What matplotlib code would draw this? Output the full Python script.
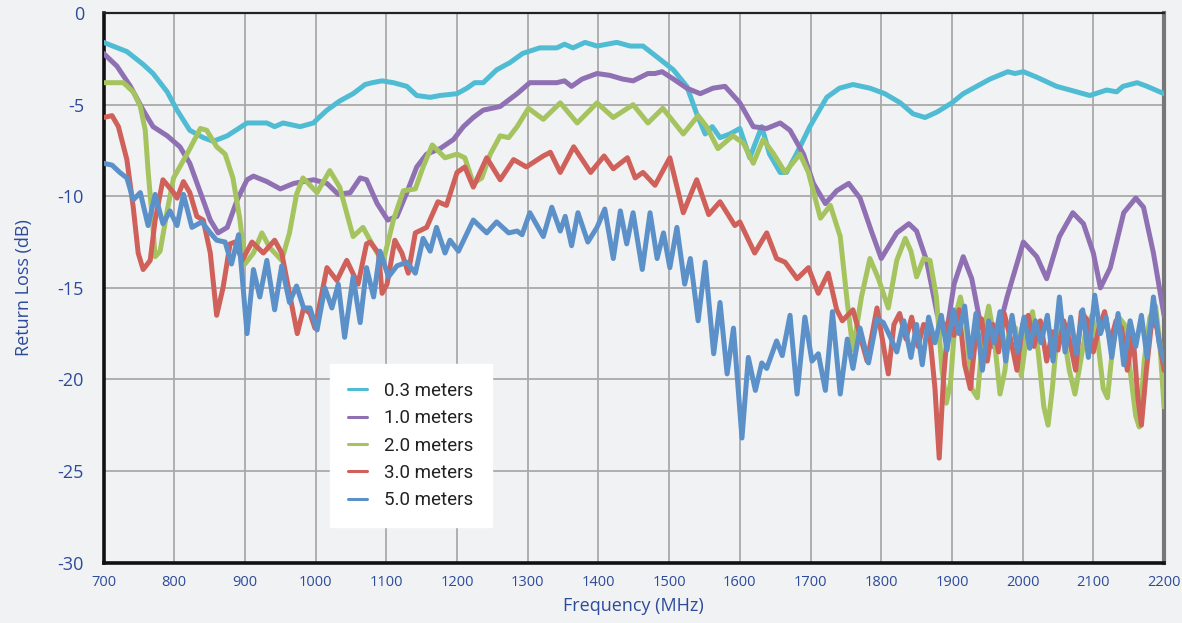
import matplotlib

matplotlib.use("Agg")
import matplotlib.pyplot as plt

BG = "#f1f2f4"
NAVY = "#2d4b9b"

# 0.3 meters
f_03 = [700, 733, 756, 770, 790, 804, 822, 841, 855, 875, 883, 903, 921, 931, 942, 954, 978, 997,
        1002, 1016, 1034, 1053, 1070, 1080, 1094, 1110, 1129, 1143, 1162, 1176, 1200, 1214, 1225,
        1237, 1256, 1275, 1293, 1317, 1341, 1352, 1364, 1381, 1398, 1426, 1445, 1463, 1483, 1506,
        1525, 1539, 1551, 1561, 1572, 1586, 1600, 1614, 1631, 1642, 1657, 1666, 1680, 1699, 1723,
        1741, 1760, 1784, 1805, 1827, 1845, 1862, 1879, 1900, 1916, 1935, 1954, 1979, 1989, 2001,
        2020, 2048, 2067, 2095, 2119, 2133, 2142, 2162, 2176, 2200]
rl_03 = [-1.6, -2.1, -2.8, -3.3, -4.3, -5.3, -6.4, -6.8, -7.0, -6.7, -6.5, -6.0, -6.0, -6.0, -6.2,
         -6.0, -6.2, -6.0, -5.8, -5.3, -4.8, -4.4, -3.9, -3.8, -3.7, -3.8, -4.0, -4.5, -4.6, -4.5,
         -4.4, -4.1, -3.8, -3.8, -3.1, -2.7, -2.2, -1.9, -1.9, -1.7, -1.9, -1.6, -1.8, -1.6, -1.8,
         -1.8, -2.4, -3.1, -4.0, -5.5, -6.6, -6.2, -6.8, -6.6, -6.3, -7.9, -6.2, -7.7, -8.7, -8.7,
         -7.7, -6.2, -4.6, -4.1, -3.9, -4.1, -4.4, -4.9, -5.5, -5.7, -5.4, -4.9, -4.4, -4.0, -3.6,
         -3.2, -3.3, -3.2, -3.5, -4.0, -4.2, -4.5, -4.2, -4.3, -4.0, -3.8, -4.0, -4.4]

# 1.0 meters
f_10 = [700, 719, 738, 756, 770, 790, 808, 822, 837, 851, 862, 875, 889, 903, 912, 931, 950, 969,
        997, 1016, 1032, 1049, 1063, 1072, 1087, 1102, 1115, 1129, 1143, 1157, 1176, 1195, 1209,
        1223, 1237, 1261, 1285, 1303, 1327, 1341, 1352, 1362, 1377, 1398, 1416, 1434, 1449, 1470,
        1480, 1490, 1506, 1525, 1544, 1562, 1579, 1600, 1619, 1638, 1657, 1671, 1690, 1704, 1721,
        1737, 1754, 1770, 1786, 1800, 1822, 1839, 1850, 1864, 1879, 1888, 1895, 1903, 1916, 1928,
        1938, 1948, 1958, 1968, 1978, 2001, 2020, 2034, 2052, 2071, 2086, 2100, 2110, 2124, 2143,
        2160, 2171, 2185, 2200]
rl_10 = [-2.2, -2.9, -4.0, -5.3, -6.2, -6.7, -7.3, -8.2, -9.8, -11.3, -12.0, -11.7, -10.2, -9.1,
         -8.9, -9.2, -9.6, -9.3, -9.1, -9.3, -9.9, -9.8, -9.0, -9.1, -10.4, -11.3, -11.1, -9.8,
         -8.4, -7.7, -7.4, -6.9, -6.2, -5.7, -5.3, -5.1, -4.4, -3.8, -3.8, -3.8, -3.7, -4.0, -3.6,
         -3.3, -3.4, -3.6, -3.7, -3.3, -3.3, -3.2, -3.6, -4.1, -4.4, -4.1, -4.0, -4.9, -6.2, -6.3,
         -6.0, -6.4, -7.7, -9.3, -10.4, -9.7, -9.3, -10.1, -11.9, -13.4, -12.0, -11.5, -11.9,
         -13.5, -16.4, -17.5, -16.8, -14.8, -13.3, -14.5, -16.5, -17.8, -18.2, -17.0, -15.5,
         -12.5, -13.3, -14.5, -12.2, -10.9, -11.5, -13.1, -15.0, -13.9, -10.9, -10.1, -10.6,
         -13.1, -16.5]

# 2.0 meters
f_20 = [700, 728, 742, 752, 759, 763, 769, 773, 780, 790, 799, 818, 837, 846, 860, 872, 883, 893,
        900, 912, 924, 935, 952, 963, 973, 982, 1002, 1020, 1034, 1053, 1067, 1087, 1096, 1110,
        1124, 1141, 1152, 1165, 1183, 1200, 1211, 1223, 1235, 1247, 1261, 1273, 1285, 1301, 1322,
        1346, 1370, 1398, 1421, 1449, 1470, 1491, 1520, 1541, 1553, 1569, 1590, 1605, 1619, 1633,
        1648, 1664, 1685, 1697, 1714, 1728, 1742, 1752, 1760, 1772, 1784, 1796, 1810, 1822, 1834,
        1842, 1850, 1860, 1869, 1878, 1886, 1892, 1898, 1905, 1912, 1920, 1928, 1936, 1944, 1952,
        1960, 1968, 1975, 1982, 1990, 1998, 2006, 2014, 2022, 2030, 2036, 2042, 2050, 2058, 2066,
        2074, 2082, 2090, 2098, 2106, 2114, 2120, 2128, 2136, 2144, 2152, 2160, 2165, 2172, 2180,
        2188, 2194, 2200]
rl_20 = [-3.8, -3.8, -4.3, -5.1, -6.4, -8.6, -11.3, -13.3, -13.0, -10.8, -9.0, -7.7, -6.3, -6.4,
         -7.3, -7.7, -9.0, -11.3, -13.7, -13.1, -12.0, -12.8, -13.5, -12.0, -9.9, -9.0, -9.8,
         -8.6, -9.5, -12.2, -11.7, -13.1, -13.5, -11.3, -9.7, -9.6, -8.4, -7.2, -7.9, -7.7, -7.9,
         -9.3, -9.0, -7.7, -6.7, -6.8, -6.2, -5.2, -5.8, -4.9, -6.0, -4.9, -5.7, -5.0, -6.0, -5.2,
         -6.6, -5.6, -6.2, -7.4, -6.7, -7.1, -8.2, -6.9, -7.7, -8.7, -7.7, -8.7, -11.2, -10.5,
         -12.2, -15.8, -18.4, -15.5, -13.4, -14.5, -16.1, -13.5, -12.3, -13.0, -14.4, -13.4,
         -13.5, -15.5, -19.5, -21.3, -20.2, -16.5, -15.5, -17.0, -20.5, -21.0, -17.5, -16.0,
         -17.8, -20.8, -19.5, -17.0, -17.2, -19.8, -17.5, -16.3, -18.5, -21.5, -22.5, -20.5,
         -17.0, -17.5, -19.5, -20.8, -19.0, -17.2, -16.5, -17.8, -20.5, -21.0, -18.0, -16.6,
         -17.0, -19.5, -22.0, -22.6, -19.0, -16.6, -16.0, -18.0, -21.5]

# 3.0 meters
f_30 = [700, 712, 721, 733, 742, 749, 756, 766, 773, 784, 799, 804, 813, 822, 832, 841, 851, 860,
        869, 879, 886, 896, 910, 926, 942, 952, 963, 974, 983, 992, 999, 1016, 1030, 1044, 1060,
        1072, 1077, 1089, 1094, 1101, 1112, 1122, 1131, 1141, 1157, 1173, 1185, 1200, 1211, 1223,
        1242, 1261, 1280, 1298, 1322, 1332, 1346, 1365, 1389, 1408, 1421, 1441, 1452, 1463, 1480,
        1501, 1520, 1539, 1556, 1572, 1593, 1600, 1621, 1638, 1652, 1664, 1681, 1697, 1711, 1725,
        1737, 1745, 1760, 1780, 1794, 1810, 1818, 1826, 1835, 1843, 1852, 1860, 1868, 1876, 1882,
        1888, 1895, 1903, 1910, 1918, 1926, 1934, 1942, 1950, 1958, 1966, 1974, 1983, 1992, 2000,
        2008, 2016, 2025, 2034, 2042, 2050, 2058, 2066, 2075, 2083, 2092, 2100, 2108, 2116, 2124,
        2132, 2140, 2148, 2156, 2163, 2168, 2175, 2183, 2190, 2200]
rl_30 = [-5.7, -5.6, -6.2, -8.0, -10.6, -13.1, -14.0, -13.5, -11.3, -9.1, -9.8, -10.1, -9.2, -9.8,
         -11.1, -11.3, -13.1, -16.5, -15.0, -12.6, -12.5, -13.5, -12.5, -13.1, -12.4, -13.1,
         -15.3, -17.5, -16.1, -16.4, -17.2, -13.9, -14.6, -13.5, -14.8, -12.6, -12.5, -13.1,
         -15.3, -14.8, -12.4, -13.1, -14.2, -12.0, -11.7, -10.3, -10.5, -8.7, -8.4, -9.5, -7.9,
         -9.1, -8.0, -8.4, -7.8, -7.6, -8.7, -7.3, -8.7, -7.8, -8.5, -7.9, -9.0, -8.7, -9.4, -7.9,
         -10.9, -9.1, -11.0, -10.3, -11.6, -11.4, -13.1, -12.0, -13.4, -13.6, -14.5, -13.9,
         -15.3, -14.2, -16.2, -16.8, -16.2, -19.0, -16.1, -19.7, -17.0, -16.4, -17.8, -16.6,
         -18.2, -17.0, -17.3, -20.5, -24.3, -20.0, -16.8, -17.6, -16.2, -19.2, -20.5, -17.5,
         -16.7, -19.0, -17.0, -18.5, -16.4, -17.8, -19.5, -17.0, -16.5, -18.2, -16.8, -19.0,
         -17.4, -18.4, -16.8, -17.8, -19.5, -16.3, -16.8, -18.5, -17.2, -16.3, -18.0, -16.8,
         -17.2, -19.5, -17.5, -21.0, -22.5, -19.5, -16.7, -17.2, -19.5]

# 5.0 meters
f_50 = [700, 712, 723, 733, 742, 752, 763, 773, 784, 794, 804, 813, 825, 839, 851, 860, 872, 881,
        891, 903, 912, 921, 931, 942, 952, 963, 973, 983, 992, 1002, 1013, 1023, 1032, 1041, 1053,
        1063, 1072, 1082, 1091, 1103, 1115, 1129, 1141, 1152, 1162, 1171, 1183, 1190, 1202, 1223,
        1242, 1256, 1273, 1285, 1292, 1303, 1322, 1334, 1346, 1353, 1362, 1371, 1385, 1398, 1409,
        1421, 1431, 1440, 1449, 1462, 1473, 1483, 1492, 1501, 1511, 1522, 1530, 1541, 1551, 1563,
        1572, 1582, 1591, 1603, 1612, 1622, 1631, 1638, 1652, 1660, 1671, 1681, 1692, 1702, 1711,
        1721, 1731, 1742, 1752, 1760, 1770, 1782, 1794, 1803, 1813, 1822, 1832, 1842, 1850, 1858,
        1867, 1876, 1885, 1893, 1902, 1910, 1918, 1926, 1934, 1943, 1952, 1960, 1968, 1976, 1985,
        1993, 2002, 2010, 2018, 2026, 2035, 2043, 2052, 2060, 2068, 2076, 2085, 2093, 2102, 2110,
        2118, 2126, 2135, 2143, 2152, 2160, 2168, 2176, 2185, 2193, 2200]
rl_50 = [-8.2, -8.3, -8.7, -9.0, -10.2, -9.8, -11.6, -9.9, -11.5, -10.8, -11.6, -9.9, -11.7, -11.4,
         -12.0, -12.4, -12.5, -13.7, -12.1, -17.5, -14.0, -15.5, -13.5, -16.2, -13.8, -15.8,
         -14.9, -16.1, -16.1, -17.3, -15.0, -16.1, -14.8, -17.7, -14.4, -16.9, -13.9, -15.5,
         -13.0, -14.4, -13.8, -13.6, -14.2, -12.3, -13.0, -11.7, -13.1, -12.4, -13.0, -11.3,
         -12.0, -11.4, -12.0, -11.9, -12.1, -10.9, -12.2, -10.6, -11.9, -11.1, -12.7, -10.9,
         -12.5, -11.7, -10.7, -13.4, -10.8, -12.6, -10.9, -14.0, -10.9, -13.4, -12.0, -13.9,
         -11.7, -14.8, -13.4, -16.8, -13.6, -18.6, -15.8, -19.7, -17.2, -23.2, -18.8, -20.6,
         -19.1, -19.4, -17.9, -18.7, -16.5, -20.8, -16.6, -19.0, -18.6, -20.6, -16.3, -20.8,
         -17.8, -19.4, -17.2, -19.1, -16.7, -16.9, -17.7, -18.5, -16.8, -18.8, -17.0, -19.2,
         -16.6, -18.0, -16.5, -18.4, -16.2, -17.5, -16.0, -18.8, -16.4, -19.5, -16.8, -18.0,
         -16.3, -19.0, -16.5, -18.5, -16.6, -18.3, -16.8, -18.0, -16.5, -19.0, -15.5, -18.5,
         -16.6, -18.6, -16.2, -18.8, -15.4, -17.5, -16.6, -18.8, -16.4, -19.2, -16.8, -18.2,
         -16.5, -18.8, -15.5, -18.0, -19.0]

series = [
    ("0.3 meters", f_03, rl_03, "#4fbcd4"),
    ("1.0 meters", f_10, rl_10, "#8e70b3"),
    ("2.0 meters", f_20, rl_20, "#a5c460"),
    ("3.0 meters", f_30, rl_30, "#d0605a"),
    ("5.0 meters", f_50, rl_50, "#5b91c8"),
]

x_ticks = list(range(700, 2201, 100))
y_ticks = [0, -5, -10, -15, -20, -25, -30]

plt.rcParams["font.family"] = ["Open Sans", "DejaVu Sans"]
plt.rcParams["axes.unicode_minus"] = False

fig = plt.figure(figsize=(11.82, 6.23), dpi=100, facecolor=BG)
ax = fig.add_axes([0.0876, 0.097, 0.8972, 0.882])
ax.set_facecolor(BG)

for label, f, rl, color in series:
    ax.plot(f, rl, color=color, lw=3.6, label=label, solid_joinstyle="round",
            solid_capstyle="round", zorder=3)

ax.set_xlim(700, 2200)
ax.set_ylim(-30, 0)
ax.set_xticks(x_ticks)
ax.set_yticks(y_ticks)
ax.grid(True, color="#a9a9a9", lw=1.3, zorder=0)
ax.set_axisbelow(True)

ax.tick_params(axis="x", length=0, pad=9, labelsize=10.5, labelcolor=NAVY)
ax.tick_params(axis="y", length=0, pad=14, labelsize=13, labelcolor=NAVY)

for side in ("left", "bottom"):
    ax.spines[side].set_color("#111111")
    ax.spines[side].set_linewidth(2.6)
ax.spines["top"].set_color("#222222")
ax.spines["top"].set_linewidth(1.6)
ax.spines["right"].set_color("#777777")
ax.spines["right"].set_linewidth(3)

ax.set_xlabel("Frequency (MHz)", fontsize=13, color=NAVY, labelpad=5)
ax.set_ylabel("Return Loss (dB)", fontsize=13, color=NAVY, labelpad=18)

leg = ax.legend(loc="lower left", bbox_to_anchor=(0.2136, 0.0646), borderaxespad=0,
                fancybox=False, framealpha=1, facecolor="white", edgecolor="white",
                fontsize=13.5, handlelength=1.0, handletextpad=0.95, labelspacing=0.5,
                borderpad=0.95)
for line in leg.get_lines():
    line.set_linewidth(2.2)
for txt in leg.get_texts():
    txt.set_color("#222222")
    txt.set_family(["Roboto", "DejaVu Sans"])

fig.savefig("out.png", dpi=100, facecolor=BG)
